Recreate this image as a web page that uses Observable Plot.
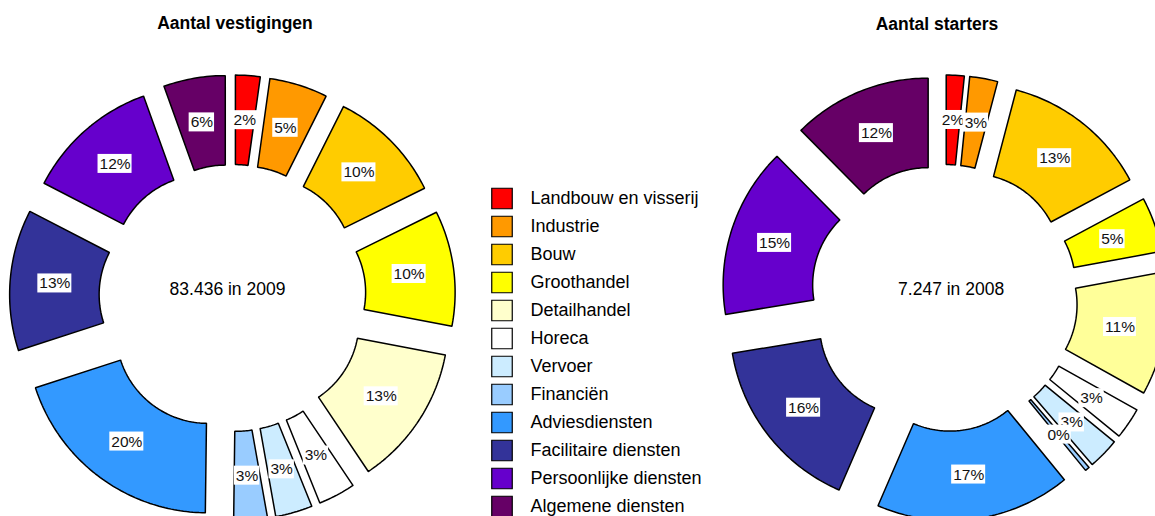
<!DOCTYPE html>
<html><head><meta charset="utf-8">
<script src="https://cdn.jsdelivr.net/npm/d3@7"></script>
<script src="https://cdn.jsdelivr.net/npm/@observablehq/plot@0.6"></script>
<style>
html,body{margin:0;padding:0;background:#fff;}
#page{position:relative;width:1155px;height:516px;overflow:hidden;background:#fff;font-family:"Liberation Sans",Arial,sans-serif;}
.title{position:absolute;font-weight:bold;font-size:17.5px;line-height:1;transform:translateX(-50%);white-space:nowrap;color:#000;}
.chart{position:absolute;}
.chart svg{overflow:visible;}
</style></head><body><div id="page"></div>
<script>
// ---- data ----
const categories = ["Landbouw en visserij","Industrie","Bouw","Groothandel","Detailhandel","Horeca","Vervoer","Financiën","Adviesdiensten","Facilitaire diensten","Persoonlijke diensten","Algemene diensten"];
const vestigingen = [2.2, 5.2, 10.3, 10.3, 12.6, 3.3, 3.3, 3.0, 19.8, 12.6, 11.9, 5.5];
const starters    = [1.6, 2.5, 13.1, 4.9, 11.0, 2.8, 2.8, 0.4, 17.4, 15.9, 15.2, 12.4];
const colors         = ["#FF0000","#FF9900","#FFCC00","#FFFF00","#FFFFCC","#FFFFFF","#CCECFF","#99CCFF","#3399FF","#333399","#6600CC","#660066"];
const startersColors = ["#FF0000","#FF9900","#FFCC00","#FFFF00","#FFFF99","#FFFFFF","#CCECFF","#99CCFF","#3399FF","#333399","#6600CC","#660066"];
const titles = ["Aantal vestigingen", "Aantal starters"];
const centerLabels = ["83.436 in 2009", "7.247 in 2008"];

// ---- geometry / style ----
const R = 181, R0 = 91.5, E = 42, MID = (R + R0) / 2;
const FONT = '"Liberation Sans", Arial, sans-serif';
const LABEL_SIZE = 15.5;
const ctx = document.createElement("canvas").getContext("2d");
ctx.font = LABEL_SIZE + 'px "Liberation Sans", Arial, sans-serif';
const page = document.getElementById("page");

function donut(values, cols, center, opt) {
  const {left, width, height, cx, cy, tdx} = opt;
  const arcs = d3.pie().sort(null).value(d => d)(values);
  const polys = [], labels = [];
  arcs.forEach((a, i) => {
    const b = (a.startAngle + a.endAngle) / 2;
    const ox = E * Math.sin(b), oy = -E * Math.cos(b);
    const span = a.endAngle - a.startAngle;
    const n = Math.max(2, Math.ceil(span / (Math.PI / 180)));
    const pts = [];
    for (let k = 0; k <= n; k++) {
      const t = a.startAngle + span * k / n;
      pts.push({x: ox + R * Math.sin(t), y: oy - R * Math.cos(t)});
    }
    for (let k = n; k >= 0; k--) {
      const t = a.startAngle + span * k / n;
      pts.push({x: ox + R0 * Math.sin(t), y: oy - R0 * Math.cos(t)});
    }
    pts.push(pts[0]);
    polys.push({pts, color: cols[i]});
    const text = Math.round(values[i]) + "%";
    labels.push({x: ox + MID * Math.sin(b), y: oy - MID * Math.cos(b), text, w: ctx.measureText(text).width + 3});
  });
  const marks = [
    ...polys.map(p => Plot.line(p.pts, {x: "x", y: "y", fill: p.color, stroke: "black", strokeWidth: 1.5, strokeLinejoin: "miter"})),
    ...labels.flatMap(l => [
      Plot.rect([l], {x1: d => d.x - d.w / 2, x2: d => d.x + d.w / 2, y1: d => d.y - 9.5, y2: d => d.y + 9.5, fill: "white"}),
      Plot.text([l], {x: "x", y: "y", text: "text", fontSize: LABEL_SIZE, fontFamily: FONT, fill: "#111"})
    ]),
    Plot.text([center], {x: () => 0, y: () => 0, text: d => d, dx: tdx, dy: -9, fontSize: 17.5, fontFamily: FONT, fill: "#000"})
  ];
  const svg = Plot.plot({
    width, height, margin: 0,
    x: {domain: [-cx, width - cx], range: [0, width], axis: null},
    y: {domain: [-cy, height - cy], range: [0, height], axis: null},
    style: {background: "transparent", overflow: "visible"},
    marks
  });
  const div = document.createElement("div");
  div.className = "chart";
  div.style.left = left + "px";
  div.style.top = "0px";
  div.appendChild(svg);
  page.appendChild(div);
}

donut(vestigingen, colors, centerLabels[0], {left: 0, width: 480, height: 516, cx: 232, cy: 297.5, tdx: -5});
donut(starters, startersColors, centerLabels[1], {left: 690, width: 465, height: 516, cx: 253.6, cy: 297.5, tdx: 7});

// ---- legend ----
const legend = Plot.plot({
  width: 230, height: 342, margin: 0,
  y: {type: "point", domain: categories, range: [14.25, 327.75], padding: 0, axis: null},
  color: {type: "identity"},
  style: {background: "transparent", overflow: "visible"},
  marks: [
    Plot.dot(categories, {y: d => d, frameAnchor: "left", dx: 21.5, symbol: "square", r: 11.57, fill: (d, i) => colors[i], stroke: "black", strokeWidth: 1.2}),
    Plot.text(categories, {y: d => d, text: d => d, frameAnchor: "left", textAnchor: "start", dx: 50, fontSize: 18, fontFamily: FONT, fill: "#000"})
  ]
});
const ld = document.createElement("div");
ld.className = "chart";
ld.style.left = "480px";
ld.style.top = "181px";
ld.appendChild(legend);
page.appendChild(ld);

// ---- titles ----
[[titles[0], 235, 15], [titles[1], 937, 16]].forEach(([t, x, y]) => {
  const el = document.createElement("div");
  el.className = "title";
  el.textContent = t;
  el.style.left = x + "px";
  el.style.top = y + "px";
  page.appendChild(el);
});
</script></body></html>
